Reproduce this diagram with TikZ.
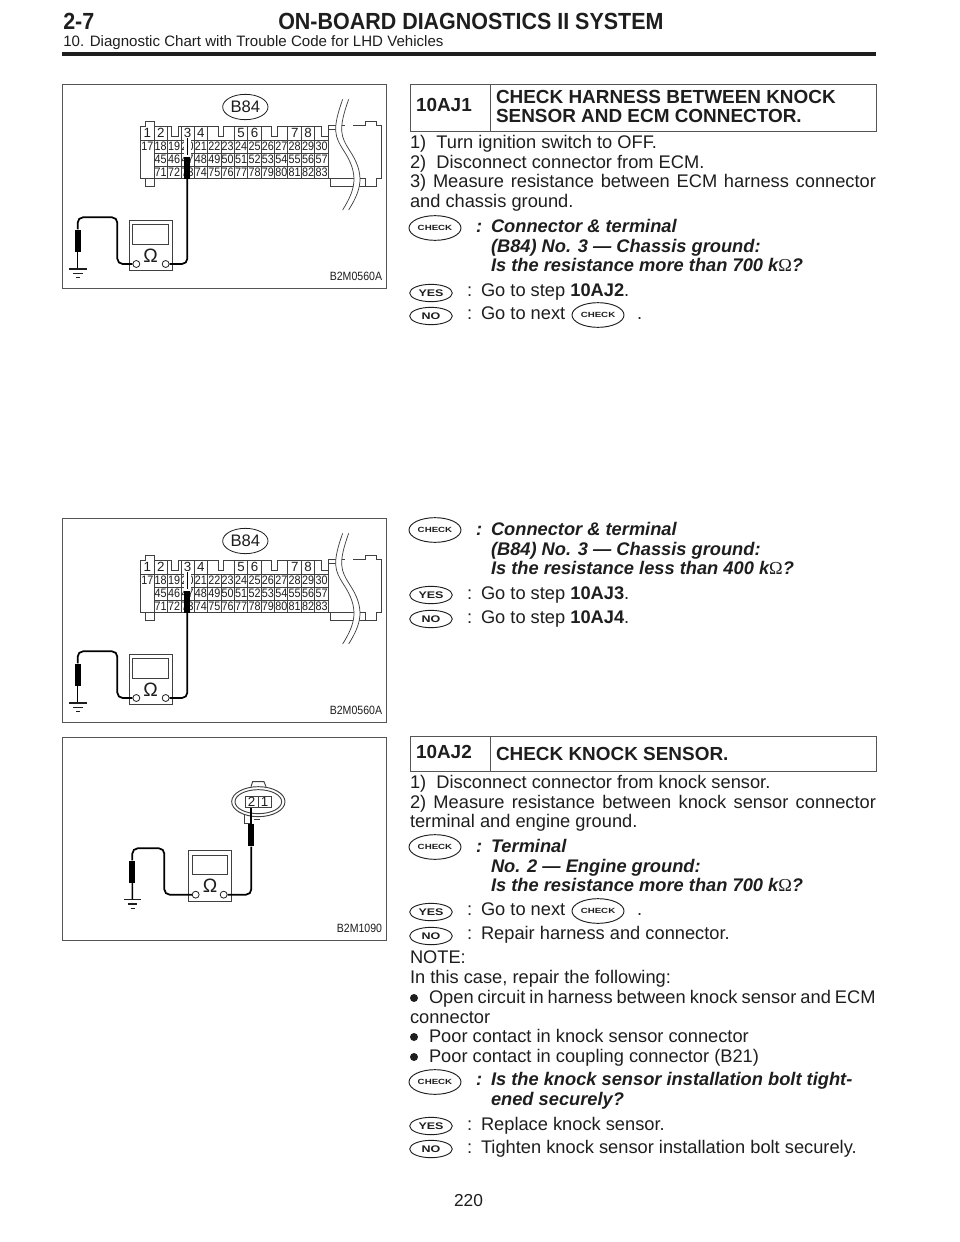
\documentclass[tikz,border=0pt]{standalone}
\usepackage{fontspec}
\usetikzlibrary{shapes.geometric}
\setmainfont{Liberation Sans}
\newfontfamily\condf[FakeStretch=0.92]{Liberation Sans}
\newfontfamily\widef[FakeStretch=1.3]{Liberation Sans}
\newfontfamily\narrowf[FakeStretch=0.88]{Liberation Sans}
\newfontfamily\omegaf{Liberation Serif}
\definecolor{ink}{HTML}{1E1E1E}
\definecolor{frameg}{HTML}{555555}
\tikzset{
  txt/.style={anchor=base west,inner sep=0pt,outer sep=0pt,text=ink,font=\fontsize{13.7pt}{15pt}\selectfont},
  ital/.style={txt,font=\fontsize{13.7pt}{15pt}\selectfont\bfseries\itshape},
  boldt/.style={txt,font=\fontsize{14.2pt}{15pt}\selectfont\bfseries},
  icon/.style={ellipse,draw=ink,line width=0.7pt,fill=white,inner sep=0pt,text=ink,font=\widef\fontsize{5.6pt}{6pt}\selectfont\bfseries},
  chkicon/.style={icon,minimum width=39pt,minimum height=18.5pt},
  ynicon/.style={icon,minimum width=32pt,minimum height=13pt,font=\widef\fontsize{7.2pt}{8pt}\selectfont\bfseries},
  cellnum/.style={inner sep=0pt,text=ink,font=\narrowf\fontsize{9.2pt}{10pt}\selectfont},
  hdrnum/.style={inner sep=0pt,text=ink,font=\fontsize{10pt}{11pt}\selectfont},
  conn/.style={draw=ink!85,line width=0.55pt},
  wire/.style={draw=black,line width=1.3pt,rounded corners=4pt},
  probe/.style={fill=black,draw=none,minimum width=4.5pt,minimum height=16.5pt,inner sep=0pt},
  gnd/.style={draw=ink,line width=0.8pt},
  figframe/.style={draw=frameg,line width=0.7pt},
  figlabel/.style={inner sep=0pt,text=ink,font=\narrowf\fontsize{9pt}{10pt}\selectfont},
  boxline/.style={draw=frameg,line width=0.6pt},
  bullett/.style={circle,fill=ink,inner sep=0pt,minimum size=6pt},
  mterm/.style={circle,draw=ink,fill=white,line width=0.6pt,inner sep=0pt,minimum size=5.2pt}
}
\newcounter{tn}
\newcommand{\tl}[4][txt]{\stepcounter{tn}\node[#1] (t\arabic{tn}) at (#2,#3) {#4};}
\newcommand{\jl}[5][txt]{\stepcounter{tn}\node[#1] (t\arabic{tn}) at (#2,#3) {\makebox[#4][s]{#5}};}
\newcommand{\ic}[5][chkicon]{\node[#1] (#2) at (#3,#4) {#5};}
\newcommand{\kohm}{k{\omegaf\upshape\mdseries Ω}}
\newcommand{\meterfig}[1]{%
  \draw[conn,fill=white,line width=0.7pt] (207,420) rectangle (337,572);
  \draw[conn,line width=0.7pt] (218,433) rectangle (325,492);
  \node[inner sep=0pt,text=ink,font=\fontsize{14.5pt}{16pt}\selectfont] (#1om) at (272,526) {Ω};
}
\newcommand{\ecmfig}[3]{%
\begin{scope}[shift={(60,#2)},scale=1/3]
  \draw[figframe] (8,14) rectangle (980,625);
  \node[ellipse,draw=ink,line width=0.6pt,minimum width=34pt,minimum height=19pt,inner sep=0pt,text=ink,font=\fontsize{12.5pt}{13pt}\selectfont] (#1lab) at (556,81) {B84};
  % connector body
  \draw[conn] (242,138) -- (257,138) -- (257,125) -- (283,125) -- (283,138) -- (333,138) -- (333,170) -- (355,170) -- (355,138) -- (475,138) -- (475,170) -- (490,170) -- (490,138) -- (635,138) -- (635,170) -- (652,170) -- (652,138) -- (785,138) -- (785,170) -- (805,170) -- (805,135) -- (855,135);
  \draw[conn] (242,138) -- (242,295) -- (803,295);
  \draw[conn] (257,295) -- (257,320) -- (283,320) -- (283,295);
  \foreach \yy in {182,220,258} {\draw[conn] (242,\yy) -- (803,\yy);}
  \draw[conn,white,line width=1pt] (243,220) -- (282,220);
  \draw[conn,white,line width=1pt] (243,258) -- (282,258);
  \foreach \xx in {283,323,363,403,443,523,563,603,683,723,763} {\draw[conn] (\xx,138) -- (\xx,182);}
  \foreach \xx in {283,323,363,403,443,483,523,563,603,643,683,723,763,805} {\draw[conn] (\xx,182) -- (\xx,295);}
  \draw[conn] (805,148) -- (845,148);
  \draw[conn] (805,170) -- (805,182);
  \draw[conn] (812,295) -- (812,320) -- (885,320);
  \draw[conn] (805,295) -- (885,295);
  \draw[conn] (880,135) -- (915,135) -- (915,125) -- (950,125) -- (950,135) -- (965,135) -- (965,295) -- (950,295) -- (950,320) -- (915,320) -- (915,295) -- (885,295);
  \draw[conn] (885,320) -- (915,320);
  % row numbers
  \foreach \lbl/\cc in {1/0,2/1,3/3,4/4,5/7,6/8,7/11,8/12} {\node[hdrnum] (#1h\lbl) at ({262+40.2*\cc},158) {\lbl};}
  \foreach \lbl [count=\cc from 0] in {17,18,19,20,21,22,23,24,25,26,27,28,29,30} {\node[cellnum] (#1r\lbl) at ({262+40.2*\cc},199) {\lbl};}
  \foreach \lbl [count=\cc from 1] in {45,46,47,48,49,50,51,52,53,54,55,56,57} {\node[cellnum] (#1r\lbl) at ({262+40.2*\cc},238) {\lbl};}
  \foreach \lbl [count=\cc from 1] in {71,72,73,74,75,76,77,78,79,80,81,82,83} {\node[cellnum] (#1r\lbl) at ({262+40.2*\cc},277) {\lbl};}
  % break lines
  \fill[white] (848,58) .. controls (815,150) and (825,170) .. (850,210) .. controls (900,285) and (885,330) .. (848,390) -- (866,390) .. controls (903,330) and (918,285) .. (868,210) .. controls (843,170) and (833,150) .. (866,58) -- cycle;
  \draw[conn] (848,58) .. controls (815,150) and (825,170) .. (850,210) .. controls (900,285) and (885,330) .. (848,390);
  \draw[conn] (866,58) .. controls (833,150) and (843,170) .. (868,210) .. controls (918,285) and (903,330) .. (866,390);
  % meter
  \meterfig{#1}
  \node[mterm] (#1tl) at (229,552) {};
  \node[mterm] (#1tr) at (317,552) {};
  % probes
  \fill[white] (373,170) rectangle (392,232);
  \draw[black,line width=0.9pt] (382,175) -- (382,232);
  \fill[white] (373,225) rectangle (391,300);
  \node[probe] (#1pr) at (382,263) {};
  \node[probe] (#1pl) at (53,482) {};
  \coordinate (#1g) at (53,567);
  \draw[wire] (#1tl) -- (172,552) -- (172,412) -- (53,412) -- (#1pl);
  \draw[wire] (#1tr) -- (382,552) -- (#1pr);
  \draw[black,line width=1.1pt] (#1pl) -- (#1g);
  \draw[gnd] (28,567) -- (80,567) (40,580) -- (68,580);
  \draw[gnd,line width=1.2pt] (48,592) -- (60,592);
  \node[figlabel,anchor=base east] (#1cap) at (967,600) {#3};
\end{scope}}
\begin{document}
\begin{tikzpicture}[x=0.75pt,y=-0.75pt]
\useasboundingbox (0,0) rectangle (960,1242);
\fill[white] (0,0) rectangle (960,1242);
% header
\node[anchor=base west,inner sep=0pt,text=ink,font=\condf\fontsize{17.5pt}{19pt}\selectfont\bfseries] (hnum) at (63,29) {2-7};
\node[anchor=base west,inner sep=0pt,text=ink,font=\condf\fontsize{17.5pt}{19pt}\selectfont\bfseries] (htitle) at (278,29) {ON-BOARD DIAGNOSTICS II SYSTEM};
\node[anchor=base west,inner sep=0pt,text=ink,font=\fontsize{11.3pt}{13pt}\selectfont] (hsub) at (63,46) {10. Diagnostic Chart with Trouble Code for LHD Vehicles};
\fill[ink] (62,51.5) rectangle (876,55.5);
% figures
\ecmfig{a}{80}{B2M0560A}
\ecmfig{b}{514}{B2M0560A}
% figure 3
\begin{scope}[shift={(60,735)},scale=1/3]
  \draw[figframe] (8,6) rectangle (980,617);
  \begin{scope}[shift={(178,-73)}]
    \meterfig{c}
    \node[mterm] (ctl) at (229,552) {};
    \node[mterm] (ctr) at (313,552) {};
  \end{scope}
  \draw[conn,line width=0.7pt] (573,155) -- (578,140) -- (612,140) -- (618,155);
  \draw[conn,fill=white,line width=0.7pt] (595,200) ellipse (80 and 45);
  \draw[conn,line width=0.7pt] (595,200) ellipse (70 and 36);
  \draw[conn] (553,240) -- (553,265) -- (570,265) (582,253) -- (600,253);
  \draw[conn,fill=white,line width=0.7pt] (555,183) rectangle (635,218);
  \draw[conn,line width=0.7pt] (595,183) -- (595,218);
  \node[hdrnum] (c2) at (575,201) {2};
  \node[hdrnum] (c1) at (614,201) {1};
  \draw[black,line width=0.9pt] (573,218) -- (573,268);
  \node[probe] (cpr) at (574,301) {};
  \node[probe] (cpl) at (217,410) {};
  \coordinate (cg) at (217,494);
  \draw[wire] (ctl) -- (313,479) -- (313,340) -- (217,340) -- (cpl);
  \draw[wire] (ctr) -- (574,479) -- (cpr);
  \draw[black,line width=1.1pt] (cpl) -- (cg);
  \draw[gnd] (192,494) -- (244,494) (204,507) -- (232,507);
  \draw[gnd,line width=1.2pt] (212,520) -- (224,520);
  \node[figlabel,anchor=base east] (ccap) at (967,592) {B2M1090};
\end{scope}
% block 1
\draw[boxline] (410,84) rectangle (876,131);
\draw[boxline] (490,84) -- (490,131);
\tl[boldt]{416}{111}{10AJ1}
\tl[boldt]{496}{103}{CHECK HARNESS BETWEEN KNOCK}
\tl[boldt]{496}{122}{SENSOR AND ECM CONNECTOR.}
\tl{410}{148}{1)\ \ Turn ignition switch to OFF.}
\tl{410}{168}{2)\ \ Disconnect connector from ECM.}
\jl{410}{187}{349.5pt}{3) Measure resistance between ECM harness connector}
\tl{410}{207}{and chassis ground.}
\ic{ck1}{435}{228}{CHECK}
\tl[ital]{476}{232}{:}
\tl[ital]{491}{232}{Connector \& terminal}
\tl[ital]{491}{252}{(B84) No. 3 — Chassis ground:}
\tl[ital]{491}{271}{Is the resistance more than 700 \kohm?}
\ic[ynicon]{ye1}{431}{293}{YES}
\tl{467}{296}{:}
\tl{481}{296}{Go to step \textbf{10AJ2}.}
\ic[ynicon]{no1}{431}{316}{NO}
\tl{467}{319}{:}
\tl{481}{319}{Go to next}
\ic{ck2}{598}{315}{CHECK}
\tl{637}{319}{.}
% block 2
\ic{ck3}{435}{530}{CHECK}
\tl[ital]{476}{535}{:}
\tl[ital]{491}{535}{Connector \& terminal}
\tl[ital]{491}{555}{(B84) No. 3 — Chassis ground:}
\tl[ital]{491}{574}{Is the resistance less than 400 \kohm?}
\ic[ynicon]{ye2}{431}{595}{YES}
\tl{467}{599}{:}
\tl{481}{599}{Go to step \textbf{10AJ3}.}
\ic[ynicon]{no2}{431}{619}{NO}
\tl{467}{623}{:}
\tl{481}{623}{Go to step \textbf{10AJ4}.}
% block 3
\draw[boxline] (410,736) rectangle (876,771);
\draw[boxline] (490,736) -- (490,771);
\tl[boldt]{416}{758}{10AJ2}
\tl[boldt]{496}{760}{CHECK KNOCK SENSOR.}
\tl{410}{788}{1)\ \ Disconnect connector from knock sensor.}
\jl{410}{808}{349.5pt}{2) Measure resistance between knock sensor connector}
\tl{410}{827}{terminal and engine ground.}
\ic{ck4}{435}{847}{CHECK}
\tl[ital]{476}{852}{:}
\tl[ital]{491}{852}{Terminal}
\tl[ital]{491}{872}{No. 2 — Engine ground:}
\tl[ital]{491}{891}{Is the resistance more than 700 \kohm?}
\ic[ynicon]{ye3}{431}{912}{YES}
\tl{467}{915}{:}
\tl{481}{915}{Go to next}
\ic{ck5}{598}{911}{CHECK}
\tl{637}{915}{.}
\ic[ynicon]{no3}{431}{936}{NO}
\tl{467}{939}{:}
\tl{481}{939}{Repair harness and connector.}
\tl{410}{963}{NOTE:}
\tl{410}{983}{In this case, repair the following:}
\node[bullett] (b1) at (414,998) {};
\jl{429}{1003}{335pt}{Open circuit in harness between knock sensor and ECM}
\tl{410}{1023}{connector}
\node[bullett] (b2) at (414,1037) {};
\tl{429}{1042}{Poor contact in knock sensor connector}
\node[bullett] (b3) at (414,1057) {};
\tl{429}{1062}{Poor contact in coupling connector (B21)}
\ic{ck6}{435}{1082}{CHECK}
\tl[ital]{476}{1085}{:}
\tl[ital]{491}{1085}{Is the knock sensor installation bolt tight-}
\tl[ital]{491}{1105}{ened securely?}
\ic[ynicon]{ye4}{431}{1126}{YES}
\tl{467}{1130}{:}
\tl{481}{1130}{Replace knock sensor.}
\ic[ynicon]{no4}{431}{1149}{NO}
\tl{467}{1153}{:}
\tl{481}{1153}{Tighten knock sensor installation bolt securely.}
\node[txt,anchor=base,font=\fontsize{13pt}{14pt}\selectfont] (pg) at (468.5,1206) {220};
\end{tikzpicture}
\end{document}
